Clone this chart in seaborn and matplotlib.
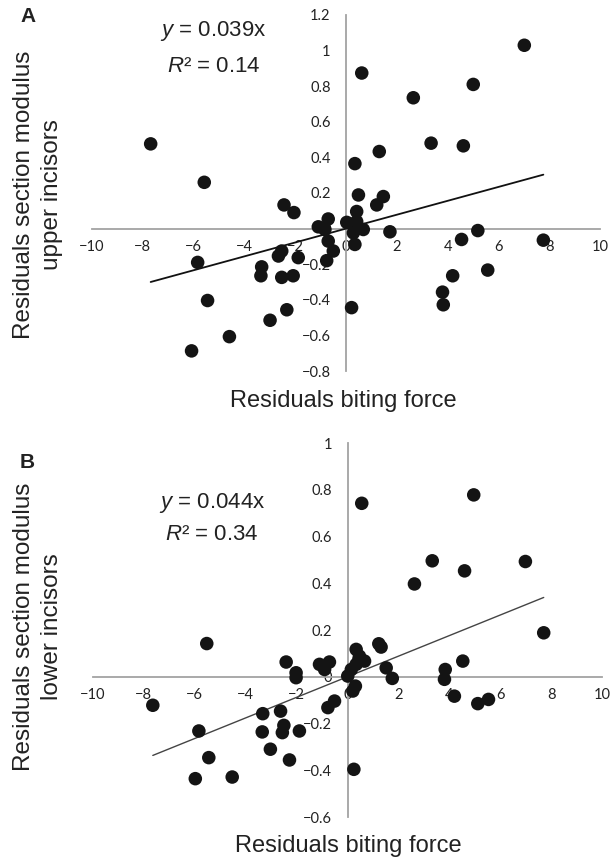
import numpy as np
import pandas as pd
import seaborn as sns
import matplotlib
matplotlib.use("Agg")
from matplotlib import pyplot as plt
from matplotlib.ticker import FuncFormatter, MultipleLocator

# residuals
upper_x = [0.62, 7.02, 2.65, 5.01, -7.69, -5.58, 0.35, 1.31, 3.35, 4.62,
           0.49, 1.47, 1.21, -2.44, -2.05, -0.70, -1.09, -0.83, 0.42, 0.03,
           0.42, 0.68, 0.29, 0.35, 1.73, -0.70, -0.50, -0.76, -2.53, -2.66,
           -1.88, -3.32, -3.35, -2.53, -2.08, -5.84, -5.45, -2.33, -2.99, -4.59,
           -6.08, 0.22, 5.19, 4.55, 7.77, 4.20, 5.58, 3.80, 3.83]
upper_y = [0.874, 1.03, 0.735, 0.81, 0.476, 0.26, 0.365, 0.433, 0.48, 0.465,
           0.189, 0.18, 0.133, 0.133, 0.09, 0.054, 0.01, -0.005, 0.096, 0.035,
           0.04, -0.005, -0.024, -0.089, -0.018, -0.07, -0.126, -0.18, -0.126, -0.154,
           -0.163, -0.215, -0.265, -0.274, -0.265, -0.19, -0.404, -0.456, -0.515, -0.607,
           -0.687, -0.444, -0.011, -0.061, -0.065, -0.265, -0.233, -0.357, -0.428]

lower_x = [0.56, 4.96, 3.33, 6.99, 4.60, 2.63, 7.71, -5.53, -2.41, -2.02,
           -2.02, -1.10, -0.71, -0.90, 0.01, 0.15, 0.34, 0.34, 0.47, 0.67,
           1.23, 1.32, 1.52, 1.76, 0.31, 0.21, -0.51, -0.77, 3.84, 3.81,
           4.53, 4.20, 5.12, 5.54, -7.65, -3.33, -2.63, -2.50, -2.56, -3.35,
           -1.89, -5.84, -3.03, -2.28, -5.45, -5.98, -4.53, 0.25, 0.45]
lower_y = [0.742, 0.778, 0.496, 0.493, 0.453, 0.397, 0.188, 0.142, 0.063, 0.017,
           -0.004, 0.053, 0.063, 0.031, 0.003, 0.031, 0.053, 0.117, 0.088, 0.067,
           0.141, 0.127, 0.038, -0.007, -0.04, -0.061, -0.104, -0.132, 0.031, -0.011,
           0.067, -0.083, -0.115, -0.097, -0.122, -0.158, -0.147, -0.208, -0.239, -0.236,
           -0.232, -0.232, -0.31, -0.356, -0.346, -0.436, -0.429, -0.396, 0.075]

slope_upper, r2_upper = 0.039, 0.14
slope_lower, r2_lower = 0.044, 0.34

sns.set_style("white")
plt.rcParams["font.family"] = ["Liberation Sans", "DejaVu Sans"]
plt.rcParams["mathtext.fontset"] = "custom"
plt.rcParams["mathtext.it"] = "Liberation Sans:italic"
plt.rcParams["mathtext.rm"] = "Liberation Sans"

fig = plt.figure(figsize=(6.11, 8.63), dpi=100)
axA = fig.add_axes([92 / 611, 1 - 371 / 863, 508 / 611, 356 / 863])
axB = fig.add_axes([93 / 611, 1 - 817 / 863, 509 / 611, 374 / 863])

fmt = FuncFormatter(lambda v, p: f"{round(v, 2):g}".replace("-", "\u2212"))


def panel(ax, xs, ys, slope, ylim, ystep, line_color, line_w):
    df = pd.DataFrame({"x": xs, "y": ys})
    xx = np.array([min(xs), max(xs)])
    sns.lineplot(x=xx, y=slope * xx, ax=ax, color=line_color, lw=line_w, zorder=2)
    sns.scatterplot(data=df, x="x", y="y", ax=ax, s=95, color="#141414",
                    edgecolor="none", zorder=3)
    ax.set_xlim(-10, 10)
    ax.set_ylim(*ylim)
    ax.xaxis.set_major_locator(MultipleLocator(2))
    ax.yaxis.set_major_locator(MultipleLocator(ystep))
    ax.xaxis.set_major_formatter(fmt)
    ax.yaxis.set_major_formatter(fmt)
    for s in ["top", "right"]:
        ax.spines[s].set_visible(False)
    for s in ["left", "bottom"]:
        ax.spines[s].set_position("zero")
        ax.spines[s].set_color("#a3a3a3")
        ax.spines[s].set_linewidth(1.3)
        ax.spines[s].set_zorder(1)
    ax.tick_params(axis="x", length=0, pad=8, labelsize=10.5, labelcolor="#222222")
    ax.tick_params(axis="y", length=0, pad=11, labelsize=10.5, labelcolor="#222222")
    for lab in ax.get_xticklabels() + ax.get_yticklabels():
        lab.set_family(["Lato", "DejaVu Sans"])
    ax.set_xlabel("")
    ax.set_ylabel("")
    ax.patch.set_alpha(0)


panel(axA, upper_x, upper_y, slope_upper, (-0.8, 1.2), 0.2, "#111111", 1.3)
panel(axB, lower_x, lower_y, slope_lower, (-0.6, 1.0), 0.2, "#444444", 1.0)

tc = "#222222"
fig.text(28 / 611, 1 - 17 / 863, "A", fontsize=15, fontweight="bold", ha="center", va="center", color=tc)
fig.text(27 / 611, 1 - 462 / 863, "B", fontsize=15, fontweight="bold", ha="center", va="center", color=tc)

fig.text(213 / 611, 1 - 31 / 863, f"$\\mathit{{y}}$ = {slope_upper}x", fontsize=16, ha="center", va="center", color=tc)
fig.text(214 / 611, 1 - 66 / 863, f"$\\mathit{{R}}$² = {r2_upper}", fontsize=16, ha="center", va="center", color=tc)
fig.text(212 / 611, 1 - 503 / 863, f"$\\mathit{{y}}$ = {slope_lower}x", fontsize=16, ha="center", va="center", color=tc)
fig.text(212 / 611, 1 - 535 / 863, f"$\\mathit{{R}}$² = {r2_lower}", fontsize=16, ha="center", va="center", color=tc)

fig.text(343 / 611, 1 - 401 / 863, "Residuals biting force", fontsize=17, ha="center", va="center", color=tc)
fig.text(348 / 611, 1 - 846 / 863, "Residuals biting force", fontsize=17, ha="center", va="center", color=tc)

fig.text(38 / 611, 1 - 195 / 863, "Residuals section modulus\nupper incisors", fontsize=17.5,
         rotation=90, ha="center", va="center", linespacing=1.35, color=tc, multialignment="center")
fig.text(38 / 611, 1 - 627 / 863, "Residuals section modulus\nlower incisors", fontsize=17.5,
         rotation=90, ha="center", va="center", linespacing=1.35, color=tc, multialignment="center")

fig.savefig("out.png", dpi=100)
